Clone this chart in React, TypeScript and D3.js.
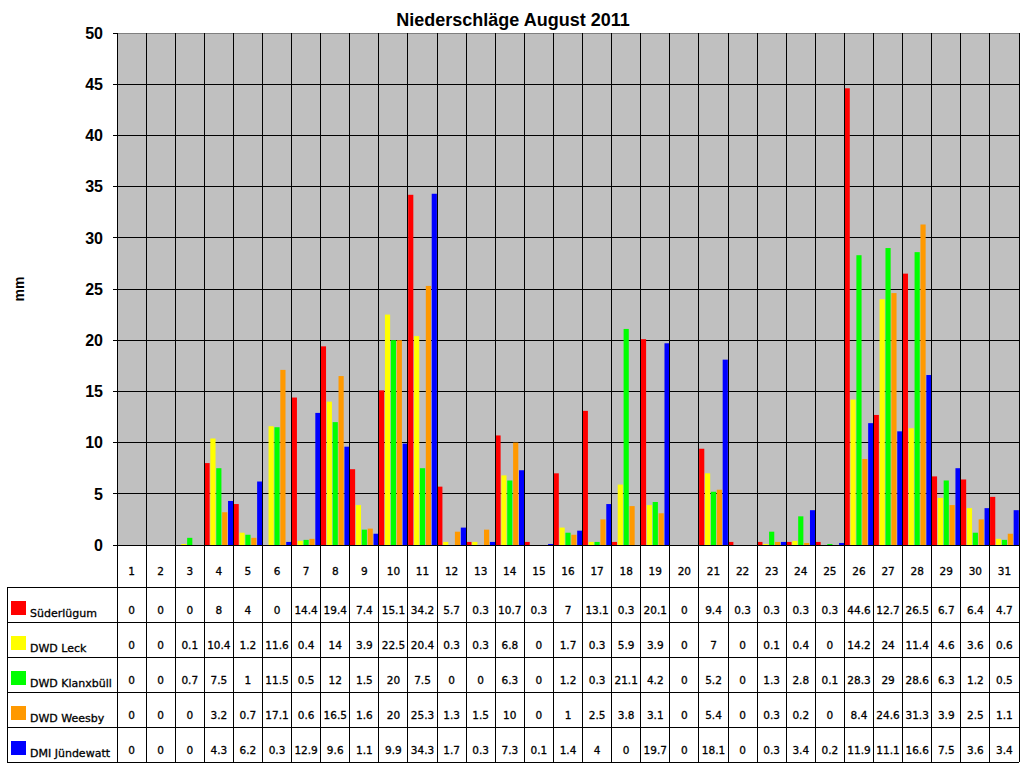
import React from 'react';
import * as d3 from 'd3';

// Tage im August 2011
const days = d3.range(1, 32).map(String);

const stations = ['Süderlügum', 'DWD Leck', 'DWD Klanxbüll', 'DWD Weesby', 'DMI Jündewatt'];
const stationColors = ['#FF0000', '#FFFF00', '#00FF00', '#FF9900', '#0000FF'];

const suederluegum = [0, 0, 0, 8, 4, 0, 14.4, 19.4, 7.4, 15.1, 34.2, 5.7, 0.3, 10.7, 0.3, 7, 13.1, 0.3, 20.1, 0, 9.4, 0.3, 0.3, 0.3, 0.3, 44.6, 12.7, 26.5, 6.7, 6.4, 4.7];
const leck = [0, 0, 0.1, 10.4, 1.2, 11.6, 0.4, 14, 3.9, 22.5, 20.4, 0.3, 0.3, 6.8, 0, 1.7, 0.3, 5.9, 3.9, 0, 7, 0, 0.1, 0.4, 0, 14.2, 24, 11.4, 4.6, 3.6, 0.6];
const klanxbuell = [0, 0, 0.7, 7.5, 1, 11.5, 0.5, 12, 1.5, 20, 7.5, 0, 0, 6.3, 0, 1.2, 0.3, 21.1, 4.2, 0, 5.2, 0, 1.3, 2.8, 0.1, 28.3, 29, 28.6, 6.3, 1.2, 0.5];
const weesby = [0, 0, 0, 3.2, 0.7, 17.1, 0.6, 16.5, 1.6, 20, 25.3, 1.3, 1.5, 10, 0, 1, 2.5, 3.8, 3.1, 0, 5.4, 0, 0.3, 0.2, 0, 8.4, 24.6, 31.3, 3.9, 2.5, 1.1];
const juendewatt = [0, 0, 0, 4.3, 6.2, 0.3, 12.9, 9.6, 1.1, 9.9, 34.3, 1.7, 0.3, 7.3, 0.1, 1.4, 4, 0, 19.7, 0, 18.1, 0, 0.3, 3.4, 0.2, 11.9, 11.1, 16.6, 7.5, 3.6, 3.4];

const seriesValues = [suederluegum, leck, klanxbuell, weesby, juendewatt];
const yTicks = [0, 5, 10, 15, 20, 25, 30, 35, 40, 45, 50];

const W = 1024;
const H = 768;
const plot = { left: 117, right: 1019, top: 33, bottom: 545 };
const table = { left: 7, headerTop: 545, rowsTop: 587, bottom: 762 };

const App: React.FC = () => {
  const x = d3.scaleBand<string>().domain(days).range([plot.left, plot.right]).padding(0);
  const inner = d3.scaleBand<number>()
    .domain(d3.range(stations.length))
    .range([0, x.bandwidth()])
    .paddingInner(0.12)
    .paddingOuter(0.03);
  const y = d3.scaleLinear().domain([0, 50]).range([plot.bottom, plot.top]);
  const row = d3.scaleBand<string>().domain(stations).range([table.rowsTop, table.bottom]);

  const tableFont = '"DejaVu Sans", Verdana, sans-serif';
  const axisFont = '"Liberation Sans", Arial, sans-serif';
  // Tabellen-Text etwas kräftiger, wie im Original
  const heavy = { stroke: '#000', strokeWidth: 0.3 };

  return (
    <svg width={W} height={H} style={{ display: 'block', position: 'absolute', left: 0, top: 0, background: '#fff' }}>
      {/* Title */}
      <text x={513} y={26} textAnchor="middle"
        fontFamily={axisFont} fontWeight="bold" fontSize={18}>
        Niederschläge August 2011
      </text>

      {/* Plot area */}
      <rect x={plot.left} y={plot.top} width={plot.right - plot.left} height={plot.bottom - plot.top} fill="#C0C0C0" />

      {/* horizontal gridlines + y ticks */}
      {yTicks.map(t => (
        <g key={t}>
          {t > 0 && t < 50 && (
            <line x1={plot.left} x2={plot.right} y1={y(t)} y2={y(t)} stroke="#000" strokeWidth={1} shapeRendering="crispEdges" />
          )}
          <line x1={plot.left - 4} x2={plot.left} y1={y(t)} y2={y(t)} stroke="#000" strokeWidth={1} shapeRendering="crispEdges" />
          <text x={103} y={y(t)} dy="0.36em" textAnchor="end" fontFamily={axisFont} fontWeight="bold" fontSize={16}>
            {t}
          </text>
        </g>
      ))}
      <line x1={plot.left} x2={plot.right} y1={plot.top} y2={plot.top} stroke="#808080" strokeWidth={1} shapeRendering="crispEdges" />

      {/* bars */}
      {seriesValues.map((vals, si) => (
        <g key={stations[si]} fill={stationColors[si]}>
          {vals.map((v, di) => v > 0 && (
            <rect key={di}
              x={(x(days[di]) as number) + (inner(si) as number)}
              y={y(v)}
              width={inner.bandwidth()}
              height={plot.bottom - y(v)} />
          ))}
        </g>
      ))}

      {/* vertical gridlines through plot and table */}
      {days.map(d => (
        <line key={d} x1={x(d)} x2={x(d)} y1={plot.top} y2={table.bottom}
          stroke="#000" strokeWidth={1} shapeRendering="crispEdges" />
      ))}
      <line x1={plot.right} x2={plot.right} y1={plot.top} y2={table.bottom} stroke="#000" strokeWidth={1} shapeRendering="crispEdges" />
      <line x1={plot.left} x2={plot.right} y1={plot.bottom} y2={plot.bottom} stroke="#000" strokeWidth={1} shapeRendering="crispEdges" />

      {/* y label */}
      <text transform={`translate(24, 289) rotate(-90)`} textAnchor="middle"
        fontFamily={axisFont} fontWeight="bold" fontSize={14}>
        mm
      </text>

      {/* data table: header */}
      {days.map(d => (
        <text key={d} x={(x(d) as number) + x.bandwidth() / 2} y={575} textAnchor="middle"
          fontFamily={tableFont} fontSize={10.5} {...heavy}>
          {d}
        </text>
      ))}

      {/* data table: rows */}
      <line x1={table.left} x2={table.left} y1={table.rowsTop} y2={table.bottom} stroke="#000" strokeWidth={1} shapeRendering="crispEdges" />
      {[...stations.map(s => row(s) as number), table.bottom].map((ry, i) => (
        <line key={i} x1={table.left} x2={plot.right} y1={ry} y2={ry} stroke="#000" strokeWidth={1} shapeRendering="crispEdges" />
      ))}
      {stations.map((s, si) => {
        const ry = row(s) as number;
        const base = ry + row.bandwidth() - 5;
        return (
          <g key={s}>
            <rect x={11} y={base - 16} width={15} height={14} fill={stationColors[si]} />
            <text x={30} y={base} fontFamily={tableFont} fontSize={11} {...heavy}>{s}</text>
            {seriesValues[si].map((v, di) => (
              <text key={di} x={(x(days[di]) as number) + x.bandwidth() / 2} y={base - 3}
                textAnchor="middle" fontFamily={tableFont} fontSize={10.5} {...heavy}>
                {v}
              </text>
            ))}
          </g>
        );
      })}
    </svg>
  );
};

export default App;
